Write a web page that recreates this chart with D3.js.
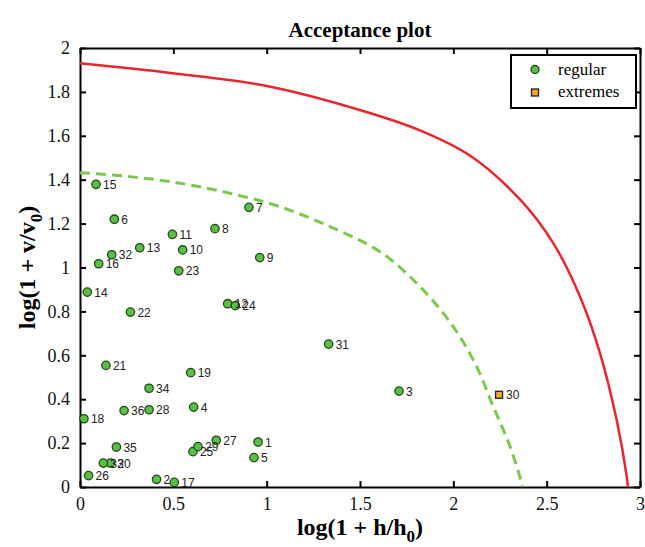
<!DOCTYPE html>
<html>
<head>
<meta charset="utf-8">
<script src="https://cdn.jsdelivr.net/npm/d3@7"></script>
<style>
  body { margin: 0; background: #fff; }
  text { font-family: "Liberation Serif", "Times New Roman", serif; }
</style>
</head>
<body>
<div id="chart"></div>
<script>
// Point data
var ids = [1, 2, 3, 4, 5, 6, 7, 8, 9, 10, 11, 12, 13, 14, 15, 16, 17, 18,
           19, 20, 21, 22, 23, 24, 25, 26, 27, 28, 29, 30, 31, 32, 33, 34, 35, 36];
var hVals = [0.954, 0.41, 1.709, 0.609, 0.932, 0.184, 0.905, 0.723, 0.963, 0.55, 0.495, 0.791,
             0.32, 0.039, 0.086, 0.1, 0.505, 0.021, 0.593, 0.163, 0.139, 0.27, 0.529, 0.832,
             0.605, 0.046, 0.73, 0.37, 0.632, 2.245, 1.332, 0.17, 0.125, 0.37, 0.195, 0.236];
var vVals = [0.205, 0.035, 0.437, 0.364, 0.134, 1.22, 1.274, 1.177, 1.045, 1.08, 1.151, 0.835,
             1.09, 0.888, 1.379, 1.017, 0.021, 0.311, 0.521, 0.109, 0.554, 0.797, 0.985, 0.826,
             0.161, 0.052, 0.213, 0.352, 0.184, 0.42, 0.651, 1.058, 0.109, 0.45, 0.182, 0.348];
var extremeIds = [30];

// Limit curves
var redH = [0, 0.497, 0.995, 1.49, 1.821, 2.089, 2.357, 2.536, 2.679, 2.786, 2.875, 2.929, 2.935];
var redV = [1.93, 1.885, 1.828, 1.72, 1.625, 1.51, 1.31, 1.11, 0.867, 0.609, 0.305, 0.047, 0];
var greenH = [0, 0.268, 0.536, 0.804, 1.071, 1.339, 1.607, 1.821, 2.0, 2.125, 2.214, 2.304, 2.366, 2.37];
var greenV = [1.432, 1.414, 1.384, 1.338, 1.277, 1.186, 1.072, 0.913, 0.73, 0.548, 0.366, 0.184, 0.017, 0];

var xTicks = [0, 0.5, 1, 1.5, 2, 2.5, 3];
var yTicks = [0, 0.2, 0.4, 0.6, 0.8, 1, 1.2, 1.4, 1.6, 1.8, 2];

var pts = ids.map(function (id, i) {
    return { id: id, h: hVals[i], v: vVals[i], extreme: extremeIds.indexOf(id) >= 0 };
});
var redLine = redH.map(function (h, i) { return [h, redV[i]]; });
var greenLine = greenH.map(function (h, i) { return [h, greenV[i]]; });

// Size settings
var margin = { top: 48, right: 5, bottom: 60, left: 80 };
var width = 645 - margin.left - margin.right,
    height = 547 - margin.top - margin.bottom;

var xScale = d3.scaleLinear().domain([0, 3]).range([0, width]);
var yScale = d3.scaleLinear().domain([0, 2]).range([height, 0]);

var svg = d3.select("#chart").append("svg")
    .attr("width", 645)
    .attr("height", 547);

var g = svg.append("g")
    .attr("transform", "translate(" + margin.left + "," + margin.top + ")");

// Title
svg.append("text")
    .attr("x", margin.left + width / 2)
    .attr("y", 37)
    .attr("text-anchor", "middle")
    .style("font-size", "21px")
    .style("font-weight", "bold")
    .text("Acceptance plot");

// Axes with inward ticks on all sides
var tickFmt = d3.format("");
g.append("g").attr("class", "axis")
    .attr("transform", "translate(0," + height + ")")
    .call(d3.axisBottom(xScale).tickValues(xTicks).tickSizeInner(-6).tickSizeOuter(0).tickPadding(10).tickFormat(tickFmt));
g.append("g").attr("class", "axis")
    .call(d3.axisLeft(yScale).tickValues(yTicks).tickSizeInner(-6).tickSizeOuter(0).tickPadding(10).tickFormat(tickFmt));
g.append("g").attr("class", "axis")
    .call(d3.axisTop(xScale).tickValues(xTicks).tickSizeInner(-6).tickSizeOuter(0).tickFormat(""));
g.append("g").attr("class", "axis")
    .attr("transform", "translate(" + width + ",0)")
    .call(d3.axisRight(yScale).tickValues(yTicks).tickSizeInner(-6).tickSizeOuter(0).tickFormat(""));

g.selectAll(".axis .domain").attr("stroke", "#000").attr("stroke-width", 2);
g.selectAll(".axis .tick line").attr("stroke", "#000").attr("stroke-width", 2);
g.selectAll(".axis .tick text")
    .style("font-family", "'Liberation Serif', serif")
    .style("font-size", "18px")
    .attr("fill", "#111");

// Axis labels
var xl = svg.append("text")
    .attr("x", margin.left + width / 2)
    .attr("y", 535)
    .attr("text-anchor", "middle")
    .style("font-size", "24px")
    .style("font-weight", "bold");
xl.append("tspan").text("log(1 + h/h");
xl.append("tspan").attr("dy", 7).style("font-size", "17px").text("0");
xl.append("tspan").attr("dy", -7).text(")");

var yl = svg.append("text")
    .attr("transform", "translate(35," + (margin.top + height / 2) + ") rotate(-90)")
    .attr("text-anchor", "middle")
    .style("font-size", "24px")
    .style("font-weight", "bold");
yl.append("tspan").text("log(1 + v/v");
yl.append("tspan").attr("dy", 7).style("font-size", "17px").text("0");
yl.append("tspan").attr("dy", -7).text(")");

// Limit curves
var line = d3.line()
    .x(function (d) { return xScale(d[0]); })
    .y(function (d) { return yScale(d[1]); })
    .curve(d3.curveCatmullRom.alpha(0.5));

g.append("path")
    .datum(greenLine)
    .attr("d", line)
    .attr("fill", "none")
    .attr("stroke", "#7cc84e")
    .attr("stroke-width", 3)
    .attr("stroke-dasharray", "10,6");

g.append("path")
    .datum(redLine)
    .attr("d", line)
    .attr("fill", "none")
    .attr("stroke", "#e8262b")
    .attr("stroke-width", 2.5);

// Points
var regular = pts.filter(function (d) { return !d.extreme; });
var extremes = pts.filter(function (d) { return d.extreme; });

g.selectAll(".dot")
    .data(regular)
  .enter().append("circle")
    .attr("class", "dot")
    .attr("r", 4.2)
    .attr("cx", function (d) { return xScale(d.h); })
    .attr("cy", function (d) { return yScale(d.v); })
    .attr("fill", "#5cbf45")
    .attr("stroke", "#1f4a18")
    .attr("stroke-width", 1.3);

g.selectAll(".sq")
    .data(extremes)
  .enter().append("rect")
    .attr("class", "sq")
    .attr("x", function (d) { return xScale(d.h) - 3.5; })
    .attr("y", function (d) { return yScale(d.v) - 3.5; })
    .attr("width", 7)
    .attr("height", 7)
    .attr("fill", "#f3a82a")
    .attr("stroke", "#222")
    .attr("stroke-width", 1.3);

g.selectAll(".lbl")
    .data(pts)
  .enter().append("text")
    .attr("class", "lbl")
    .attr("x", function (d) { return xScale(d.h) + 7; })
    .attr("y", function (d) { return yScale(d.v) + 4.5; })
    .style("font-family", "'Liberation Sans', Arial, sans-serif")
    .style("font-size", "12px")
    .attr("fill", "#222")
    .text(function (d) { return d.id; });

// Legend
var lg = svg.append("g").attr("transform", "translate(511,55)");
lg.append("rect")
    .attr("width", 125)
    .attr("height", 53)
    .attr("fill", "#fff")
    .attr("stroke", "#000")
    .attr("stroke-width", 2);
lg.append("circle")
    .attr("cx", 24).attr("cy", 14.5).attr("r", 4)
    .attr("fill", "#5cbf45").attr("stroke", "#1f4a18").attr("stroke-width", 1.3);
lg.append("rect")
    .attr("x", 20.5).attr("y", 34).attr("width", 7).attr("height", 7)
    .attr("fill", "#f3a82a").attr("stroke", "#222").attr("stroke-width", 1.3);
lg.append("text").attr("x", 47).attr("y", 20).style("font-size", "17px").text("regular");
lg.append("text").attr("x", 47).attr("y", 42).style("font-size", "17px").text("extremes");
</script>
</body>
</html>
